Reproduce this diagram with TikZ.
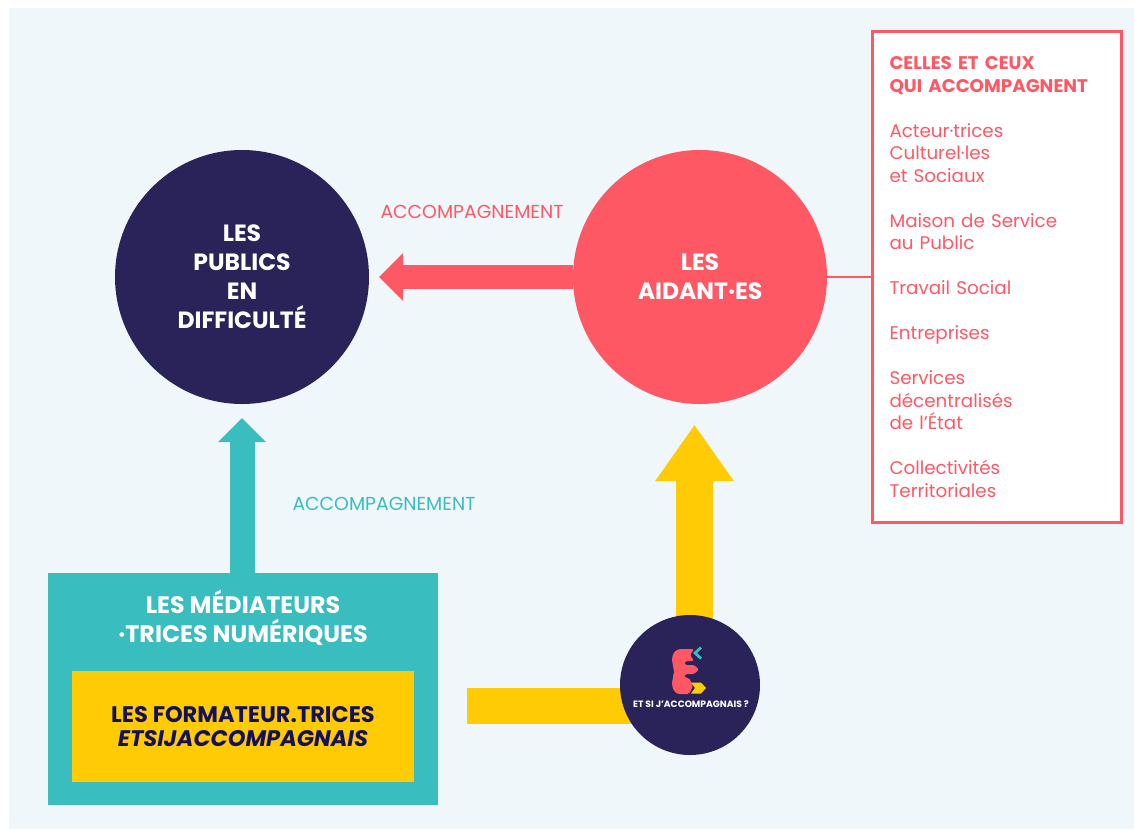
\documentclass[tikz,border=0pt]{standalone}
\usepackage{fontspec}
\setmainfont{Poppins}
\usetikzlibrary{arrows.meta,backgrounds}
\definecolor{bgc}{HTML}{F0F7FA}
\definecolor{navyc}{HTML}{2A2359}
\definecolor{redc}{HTML}{FF5865}
\definecolor{tealc}{HTML}{3ABDBF}
\definecolor{yellowc}{HTML}{FFCB05}
\definecolor{inkc}{HTML}{15105A}
\begin{document}
\begin{tikzpicture}[x=1pt, y=-1pt,
  bigdisc/.style={circle, minimum size=254pt, inner sep=0pt, align=center, text=white, font=\bfseries\fontsize{23.5}{29}\selectfont},
  flowlabel/.style={font=\fontsize{18.8}{20}\selectfont}]
\useasboundingbox (0,0) rectangle (1134,830);
\node[bigdisc, fill=navyc] (pub) at (242,277){LES\\PUBLICS\\EN\\DIFFICULTÉ};
\node[bigdisc, fill=redc] (aid) at (700,277){LES\\AIDANT·ES};
\node[flowlabel, text=redc] (acc1) at (472,212){ACCOMPAGNEMENT};
\node[flowlabel, text=tealc] (acc2) at (384,504){ACCOMPAGNEMENT};
\node[draw=redc, line width=3pt, fill=white, anchor=north west, minimum width=239pt, minimum height=491pt, inner xsep=17pt, text width=215pt, align=left, text=redc, font=\fontsize{18.3}{22.5}\selectfont] (list) at (871,30){%
{\bfseries CELLES ET CEUX\\QUI ACCOMPAGNENT}\\[22.5pt]
Acteur·trices\\Culturel·les\\et Sociaux\\[22.5pt]
Maison de Service\\au Public\\[22.5pt]
Travail Social\\[22.5pt]
Entreprises\\[22.5pt]
Services\\décentralisés\\de l’État\\[22.5pt]
Collectivités\\Territoriales};
\node[fill=tealc, anchor=north west, minimum width=390pt, minimum height=232pt] (med) at (48,573){};
\node[text=white, align=center, font=\bfseries\fontsize{23.8}{29}\selectfont] (medtitle) at (243,617.5){LES MÉDIATEURS\\·TRICES NUMÉRIQUES};
\node[fill=yellowc, minimum width=342pt, minimum height=111pt, text=inkc, align=center, font=\bfseries\fontsize{22.5}{24}\selectfont] (form) at (243,726.5){LES FORMATEUR.TRICES\\\itshape ETSIJACCOMPAGNAIS};
\node[circle, fill=navyc, minimum size=140pt, inner sep=0pt] (logo) at (690,685){};
\coordinate (yup) at (694.5,685);
\coordinate (bar0) at (467,706);
\fill[redc, rounded corners=1.5pt] (681,649) -- (694,649) -- (690,655) -- (694,661) -- (686,661) -- (684,663.5) -- (686,665) -- (694,665) -- (699,669.5) -- (694,674) -- (686,674) -- (684,676) -- (686,678) -- (689,678) -- (693,686) -- (689,694) -- (681,694) [sharp corners] .. controls (675.5,694) and (672,689.5) .. (672,683) -- (674,671.5) -- (672,660) .. controls (672,653.5) and (675.5,649) .. (681,649) -- cycle;
\draw[tealc, line width=2.7pt] (701,647.5) -- (695,653) -- (701,658.5);
\fill[yellowc] (691,682.5) -- (701,682.5) -- (706,688) -- (701,693.5) -- (691,693.5) -- (695,688) -- cycle;
\node[text=white, font=\bfseries\fontsize{9.2}{10}\selectfont] (logotext) at (691,704){ET SI J’ACCOMPAGNAIS ?};
\begin{pgfonlayer}{background}
\fill[bgc] (9,8) rectangle (1134,829);
\draw[redc, line width=24pt, -{Triangle[length=24pt, width=48pt, line width=0pt]}, shorten >=10pt] (aid.west) -- (pub.east);
\draw[tealc, line width=25pt, -{Triangle[length=24pt, width=48pt, line width=0pt]}, shorten >=14pt] (pub.south |- med.north) -- (pub.south);
\draw[yellowc, line width=37pt, -{Triangle[length=56pt, width=79pt, line width=0pt]}, shorten >=21pt] (yup) -- (yup |- aid.south);
\draw[yellowc, line width=36pt] (bar0) -- (bar0 -| yup);
\draw[redc, line width=2.5pt] (aid.east) -- (aid.east -| list.west);
\end{pgfonlayer}
\end{tikzpicture}
\end{document}
